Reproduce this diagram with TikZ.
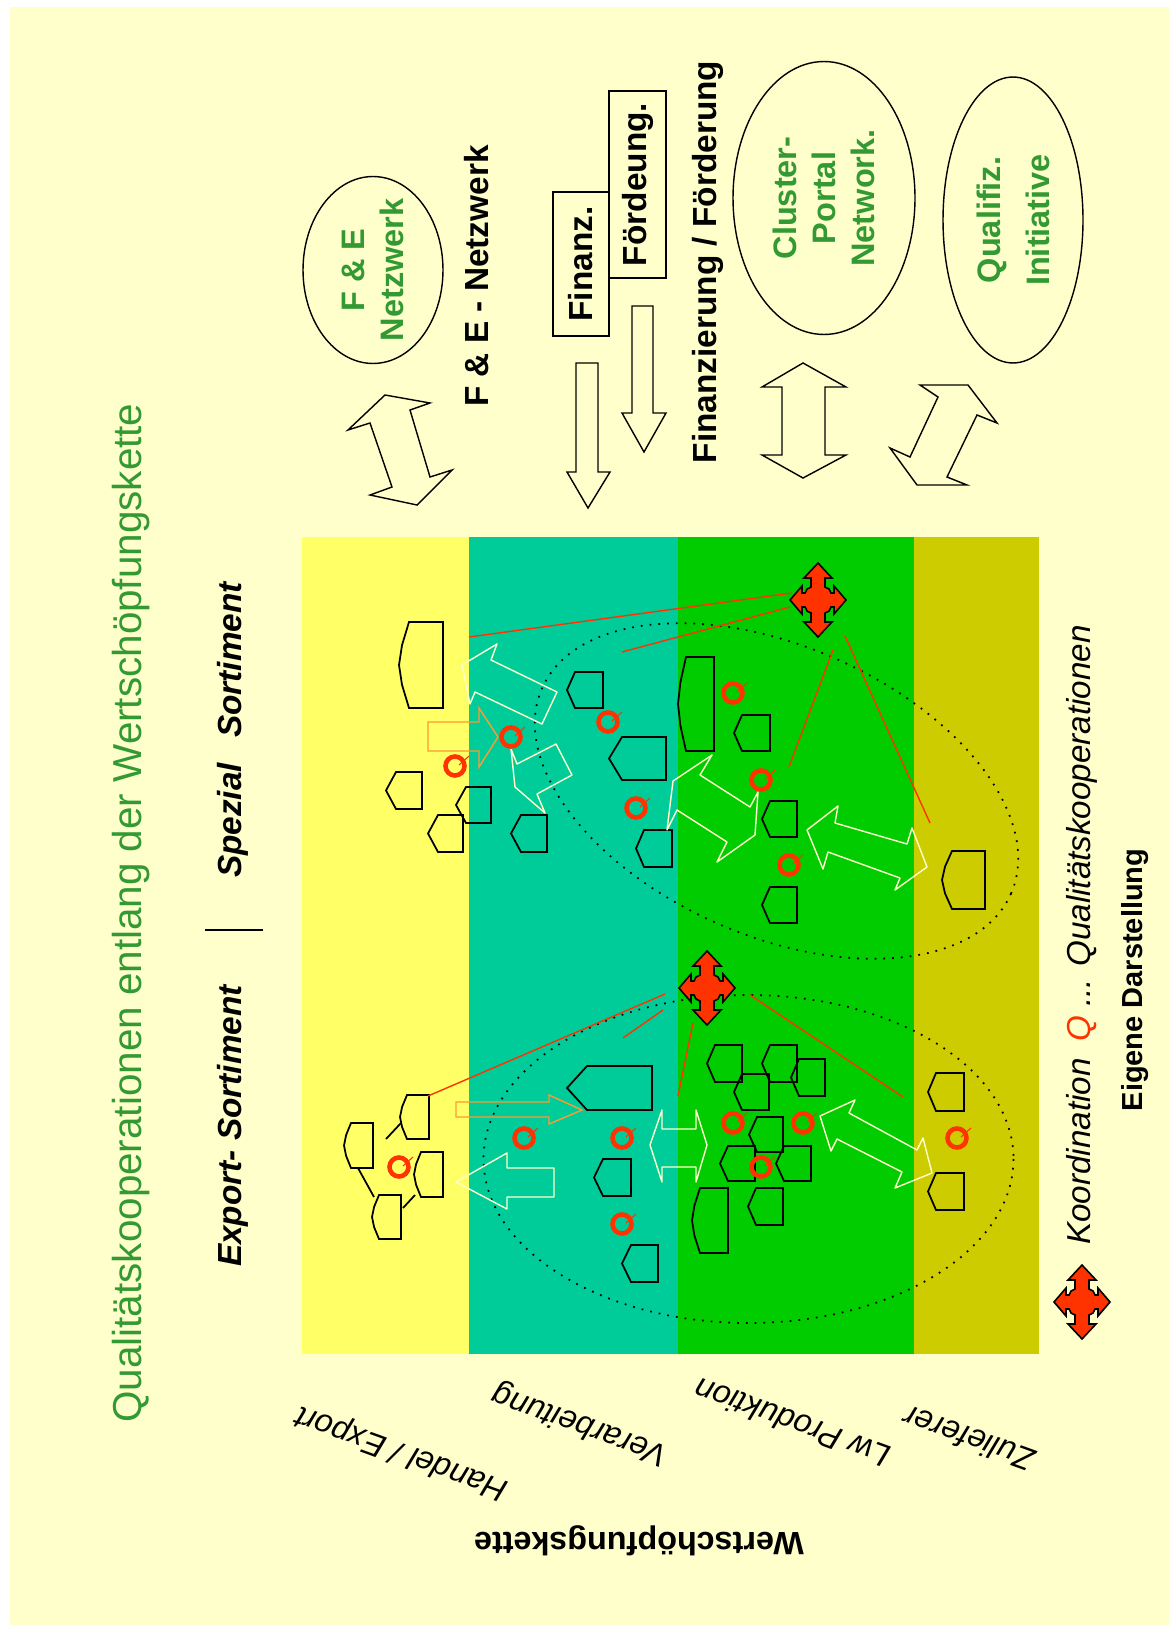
\documentclass[tikz,border=0pt]{standalone}
\usepackage{fontspec}
\setmainfont{Liberation Sans}
\usetikzlibrary{shapes.geometric}
\definecolor{bgcolor}{RGB}{255,255,204}
\definecolor{handelcol}{RGB}{255,255,102}
\definecolor{verarbcol}{RGB}{0,204,153}
\definecolor{prodcol}{RGB}{0,204,0}
\definecolor{zuliefcol}{RGB}{204,204,0}
\definecolor{koordcol}{RGB}{255,51,0}
\definecolor{titelcol}{RGB}{51,153,51}
\definecolor{pfeilcol}{RGB}{255,153,51}
\tikzset{
  hutln/.style={line width=1pt, black, line join=miter},
  koordln/.style={line width=0.8pt, koordcol},
  hellpfeil/.style={line width=0.8pt, bgcolor, line join=round},
  orangepfeil/.style={line width=0.8pt, pfeilcol},
  schwarzpfeil/.style={line width=0.8pt, black},
  punktln/.style={line width=1pt, dash pattern=on 1pt off 4pt},
  rahmen/.style={draw, line width=0.8pt, inner sep=0pt},
  titel/.style={titelcol, font=\fontsize{23}{27}\selectfont, rotate=90},
  sortkopf/.style={font=\fontsize{19}{22}\selectfont\bfseries\itshape, rotate=90},
  kopf/.style={font=\fontsize{19}{22}\selectfont\bfseries, rotate=90},
  grtext/.style={titelcol, font=\fontsize{18.5}{22}\selectfont\bfseries, align=center, rotate=90},
  stufe/.style={font=\fontsize{18.4}{22}\selectfont\itshape, rotate=160},
}
\newcommand{\hut}[5]{%
  \draw[hutln] ({#1+#3},#2) -- ({#1+#5},#2) -- (#1,{#2+#4/2})
    -- ({#1+#5},{#2+#4}) -- ({#1+#3},{#2+#4}) -- cycle;
}
\newcommand{\barrel}[5]{%
  \draw[hutln] ({#1+#3},#2) -- ({#1+#5},#2) -- ({#1+0.3*#5},{#2+0.27*#4})
    -- (#1,{#2+#4/2}) -- ({#1+0.3*#5},{#2+0.73*#4})
    -- ({#1+#5},{#2+#4}) -- ({#1+#3},{#2+#4}) -- cycle;
}
\newcommand{\qmark}[2]{%
  \draw[koordcol, line width=2.6pt] (#1,#2) circle (9.5);
  \draw[koordcol, line width=0.6pt] ({#1+4},{#2-1}) -- ({#1+14},{#2-10});
}
\newcommand{\koord}[2]{%
  \filldraw[fill=koordcol, draw=black, line width=0.9pt, shift={(#1,#2)}]
    (0,-37) -- (14,-22) -- (7,-22) -- (7,-13) -- (11,-11) -- (13,-7) -- (16,-7) -- (16,-14)
    -- (28,0) -- (16,14) -- (16,7) -- (13,7) -- (11,11) -- (7,13) -- (7,22) -- (14,22)
    -- (0,37) -- (-14,22) -- (-7,22) -- (-7,13) -- (-11,11) -- (-13,7) -- (-16,7) -- (-16,14)
    -- (-28,0) -- (-16,-14) -- (-16,-7) -- (-13,-7) -- (-11,-11) -- (-7,-13) -- (-7,-22)
    -- (-14,-22) -- cycle;
}

\begin{document}
\begin{tikzpicture}[x=0.02cm, y=-0.02cm]
  \useasboundingbox (0,0) rectangle (1169,1625);
  % Background
  \fill[white] (0,0) rectangle (1169,1625);
  \fill[bgcolor] (10,7) rectangle (1169,1625);
  % Stages of the chain
  \fill[handelcol] (302,537) rectangle (469,1354);
  \fill[verarbcol] (469,537) rectangle (678,1354);
  \fill[prodcol] (678,537) rectangle (914,1354);
  \fill[zuliefcol] (914,537) rectangle (1039,1354);
  % Headings
  \node[titel] (titel) at (131,913) {Qualitätskooperationen entlang der Wertschöpfungskette};
  \node[sortkopf] (export) at (233,1126) {Export- Sortiment};
  \node[sortkopf] (spezial) at (233,730) {Spezial\hspace{0.75em}Sortiment};
  \draw[line width=0.8pt] (205,930) -- (263,930);
  % Partners on top
  \node[rahmen, ellipse, minimum width=2.8cm, minimum height=3.74cm] (fue) at (373,270) {};
  \node[grtext] at (fue) {F \& E\\Netzwerk};
  \node[kopf] (fuenetz) at (477,276) {F \& E - Netzwerk};
  \node[rahmen, kopf, minimum width=2.88cm, minimum height=1.12cm] (finanz) at (581,264) {Finanz.};
  \node[rahmen, kopf, minimum width=3.74cm, minimum height=1.14cm] (foerd) at (637.5,184.5) {Fördeung.};
  \node[kopf] (finfoerd) at (708,262) {Finanzierung / Förderung};
  \node[rahmen, ellipse, minimum width=3.64cm, minimum height=5.46cm] (cluster) at (824,198) {};
  \node[grtext] at (cluster) {Cluster-\\Portal\\Network.};
  \node[rahmen, ellipse, minimum width=2.8cm, minimum height=5.72cm] (quali) at (1013,220) {};
  \node[grtext, font=\fontsize{18.5}{28}\selectfont\bfseries] at (quali) {Qualifiz.\\Initiative};
  % Big arrows towards the chain
  \draw[schwarzpfeil] (385,395) -- (430,403) -- (410,410) -- (430,477) -- (452,470) -- (417,505)
    -- (370,495) -- (392,487) -- (370,423) -- (348,430) -- cycle;
  \draw[schwarzpfeil] (576,363) -- (598,363) -- (598,472) -- (610,472) -- (588,508) -- (567,472)
    -- (576,472) -- cycle;
  \draw[schwarzpfeil] (632,306) -- (653,306) -- (653,413) -- (666,413) -- (644,452) -- (622,413)
    -- (632,413) -- cycle;
  \draw[schwarzpfeil] (803,363) -- (846,387) -- (825,387) -- (825,455) -- (846,455) -- (803,478)
    -- (762,455) -- (782,455) -- (782,387) -- (762,387) -- cycle;
  \draw[schwarzpfeil] (920,385) -- (968,385) -- (997,423) -- (977,415) -- (947,477) -- (967,485)
    -- (917,485) -- (890,448) -- (910,457) -- (938,397) -- cycle;
  % Dotted clusters
  \draw[punktln, rotate around={-23.6:(776.5,791)}] (776.5,791) ellipse [x radius=256, y radius=145];
  \draw[punktln] (748.5,1159) ellipse [x radius=265, y radius=164];
  % Enterprises, Spezial
  \barrel{399}{622}{44}{86}{10}
  \hut{386}{772}{36}{37}{10}
  \hut{456}{787}{35}{36}{10}
  \hut{428}{815}{35}{37}{10}
  \hut{567}{672}{36}{36}{8}
  \hut{609}{737}{57}{43}{13}
  \hut{636}{830}{36}{37}{8}
  \hut{511}{815}{36}{37}{10}
  \barrel{678}{657}{36}{94}{8}
  \hut{734}{715}{36}{36}{8}
  \hut{762}{801}{35}{36}{8}
  \hut{762}{887}{35}{36}{8}
  \barrel{942}{851}{43}{58}{10}
  % Enterprises, Export
  \barrel{400}{1095}{29}{44}{7}
  \barrel{344}{1123}{29}{45}{7}
  \barrel{414}{1152}{29}{45}{7}
  \barrel{372}{1195}{29}{44}{7}
  \draw[hutln] (386,1139) -- (401,1123);
  \draw[hutln] (358,1168) -- (374,1197);
  \draw[hutln] (403,1208) -- (415,1195);
  \hut{567}{1066}{85}{44}{20}
  \hut{594}{1159}{37}{37}{9}
  \hut{622}{1245}{36}{37}{9}
  \hut{707}{1045}{35}{37}{8}
  \hut{762}{1045}{35}{37}{8}
  \hut{734}{1074}{35}{36}{8}
  \hut{791}{1059}{34}{37}{8}
  \hut{749}{1117}{34}{35}{8}
  \hut{720}{1146}{35}{35}{8}
  \hut{776}{1146}{35}{35}{8}
  \barrel{692}{1188}{36}{65}{8}
  \hut{748}{1188}{35}{37}{8}
  \hut{928}{1073}{36}{38}{8}
  \hut{928}{1173}{36}{37}{8}
  % Flows between stages
  \draw[hellpfeil] (497,644) -- (491,660) -- (557,692) -- (542,724) -- (475,692) -- (470,704)
    -- (462,665) -- cycle;
  \draw[hellpfeil] (511,749) -- (517,764) -- (556,744) -- (572,775) -- (537,794) -- (545,813)
    -- (515,787) -- cycle;
  \draw[hellpfeil] (712,755) -- (673,781) -- (667,830) -- (677,810) -- (727,842) -- (717,862)
    -- (755,835) -- (758,792) -- (750,807) -- (700,775) -- cycle;
  \draw[hellpfeil] (838,806) -- (807,830) -- (823,869) -- (828,852) -- (900,878) -- (895,890)
    -- (927,867) -- (912,828) -- (907,844) -- (835,823) -- cycle;
  \draw[orangepfeil] (428,722) -- (479,722) -- (479,708) -- (498,737) -- (479,767) -- (479,751)
    -- (428,751) -- cycle;
  \draw[orangepfeil] (456,1102) -- (549,1102) -- (549,1095) -- (582,1110) -- (549,1124)
    -- (549,1117) -- (456,1117) -- cycle;
  \draw[hellpfeil] (456,1182) -- (507,1153) -- (507,1168) -- (554,1168) -- (554,1197)
    -- (507,1197) -- (507,1209) -- cycle;
  \draw[hellpfeil] (650,1145) -- (662,1110) -- (662,1129) -- (696,1129) -- (696,1110) -- (707,1145)
    -- (696,1182) -- (696,1167) -- (662,1167) -- (662,1182) -- cycle;
  \draw[hellpfeil] (855,1100) -- (820,1116) -- (831,1151) -- (837,1139) -- (902,1172) -- (895,1188)
    -- (932,1173) -- (923,1138) -- (917,1150) -- (849,1113) -- cycle;
  % Coordination
  \draw[koordln] (469,637) -- (792,593);
  \draw[koordln] (622,652) -- (790,607);
  \draw[koordln] (833,650) -- (789,767);
  \draw[koordln] (845,636) -- (930,823);
  \draw[koordln] (428,1096) -- (665,994);
  \draw[koordln] (623,1038) -- (663,1010);
  \draw[koordln] (693,1023) -- (678,1096);
  \draw[koordln] (750,995) -- (903,1097);
  \koord{818}{600}
  \koord{707}{988}
  % Quality cooperations
  \qmark{455}{766} \qmark{511}{737} \qmark{608}{722} \qmark{636}{808}
  \qmark{733}{693} \qmark{761}{780} \qmark{789}{865}
  \qmark{399}{1167} \qmark{524}{1138} \qmark{622}{1138} \qmark{622}{1224}
  \qmark{733}{1123} \qmark{803}{1123} \qmark{761}{1167} \qmark{957}{1138}
  % Stage labels
  \node[stufe] (handel) at (402,1452) {Handel / Export};
  \node[stufe] (verarb) at (580,1424) {Verarbeitung};
  \node[stufe] (lwprod) at (792,1423) {Lw Produktion};
  \node[stufe] (zulief) at (969,1439) {Zulieferer};
  \node[font=\fontsize{18.4}{22}\selectfont\bfseries, rotate=180] (kette) at (639,1541) {Wertschöpfungskette};
  % Legend
  \koord{1082}{1302}
  \node[font=\fontsize{18.9}{22}\selectfont\itshape, rotate=90] (legende) at (1082,935)
    {Koordination\hspace{0.5em}\textcolor{koordcol}{Q} ... Qualitätskooperationen};
  \node[font=\fontsize{16.5}{20}\selectfont\bfseries, rotate=90] (quelle) at (1135,980) {Eigene Darstellung};
\end{tikzpicture}
\end{document}
